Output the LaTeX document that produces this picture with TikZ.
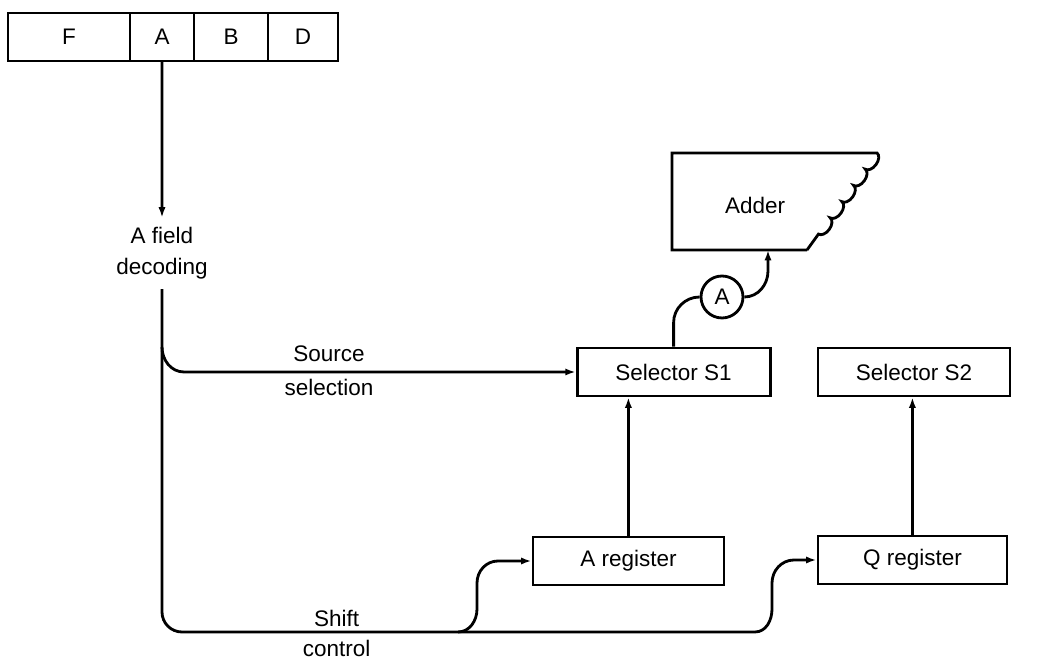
\documentclass[tikz,border=0pt]{standalone}
\usepackage{fontspec}
\setmainfont{Liberation Sans}
\usepackage{tikz}
\usetikzlibrary{arrows.meta, positioning, decorations.pathmorphing}

\begin{document}
\begin{tikzpicture}[
    line width=2pt,
    font=\fontsize{16}{22}\selectfont,
    field/.style={draw, minimum height=1.2cm, inner sep=0pt, outer sep=0pt},
    regbox/.style={draw, minimum height=1.2cm, inner sep=0pt},
    lbl/.style={inner sep=0pt},
    arr/.style={-{Latex[length=2.6mm, width=1.8mm]}},
  ]

    \useasboundingbox (0,0) rectangle (26.1,16.525);

    %% ── Instruction word ─────────────────────────────────────────────
    \node[field, minimum width=3.05cm] (fF) at (1.725,15.6) {F};
    \node[field, minimum width=1.6cm,  right=0pt of fF] (fA) {A};
    \node[field, minimum width=1.85cm, right=0pt of fA] (fB) {B};
    \node[field, minimum width=1.75cm, right=0pt of fB] (fD) {D};

    %% A field decoding
    \node[align=center, inner ysep=6pt] (dec) at (4.05,10.19)
      {A field\\decoding};
    \draw[arr] (fA) -- (dec);

    %% ── Selectors and registers ───────────────────────────────────────
    \node[regbox, minimum width=4.825cm] (sel1) at (16.84,7.225) {Selector S1};
    \node[regbox, minimum width=4.8cm]   (sel2) at (22.85,7.225) {Selector S2};
    \node[regbox, minimum width=4.775cm] (areg) at (15.71,2.5)   {A register};
    \node[regbox, minimum width=4.725cm] (qreg) at (22.81,2.525) {Q register};

    \draw[arr] (areg.north) -- (areg.north |- sel1.south);
    \draw[arr] (qreg.north) -- (qreg.north |- sel2.south);

    %% ── Adder (torn edge) ─────────────────────────────────────────────
    \draw (20.175,10.275) -- (16.8,10.275) -- (16.8,12.7) -- (21.925,12.7)
      decorate[decoration={bumps, segment length=10mm, amplitude=1.5mm}]
      {-- (20.175,10.275)};
    \node (adder) at (18.875,11.4) {Adder};
    \coordinate (addin) at (19.2,10.275);

    \node[draw, circle, minimum size=1.05cm, inner sep=0pt] (ca) at (18.05,9.1) {A};
    \draw (sel1.north) -- ++(0,0.6) to[out=90, in=180] (ca.west);
    \draw[arr] (ca.east) to[out=0, in=-90] (19.2,9.75) -- (addin);

    %% ── Source selection ──────────────────────────────────────────────
    \coordinate (srcbr) at (4.05,7.85);
    \draw[arr] (srcbr) to[out=-90, in=180] (4.6,7.225)
      -- node[lbl, above=6pt, pos=0.37] {Source}
         node[lbl, below=4pt, pos=0.37] {selection} (sel1.west);

    %% ── Shift control ─────────────────────────────────────────────────
    \coordinate (split) at (11.45,0.725);
    \draw[arr] (dec.south) -- (4.05,1.225) to[out=-90, in=180] (4.55,0.725)
      -- node[lbl, above=3pt, pos=0.56] {Shift}
         node[lbl, below=5pt, pos=0.56] {control} (split)
      to[out=0, in=-90] (11.925,1.3) -- (11.925,1.95)
      to[out=90, in=180] (12.45,2.5) -- (areg.west);
    \draw[arr] (split) -- (18.875,0.725) to[out=0, in=-90] (19.3,1.3)
      -- (19.3,1.95) to[out=90, in=180] (19.85,2.525) -- (qreg.west);

\end{tikzpicture}
\end{document}
